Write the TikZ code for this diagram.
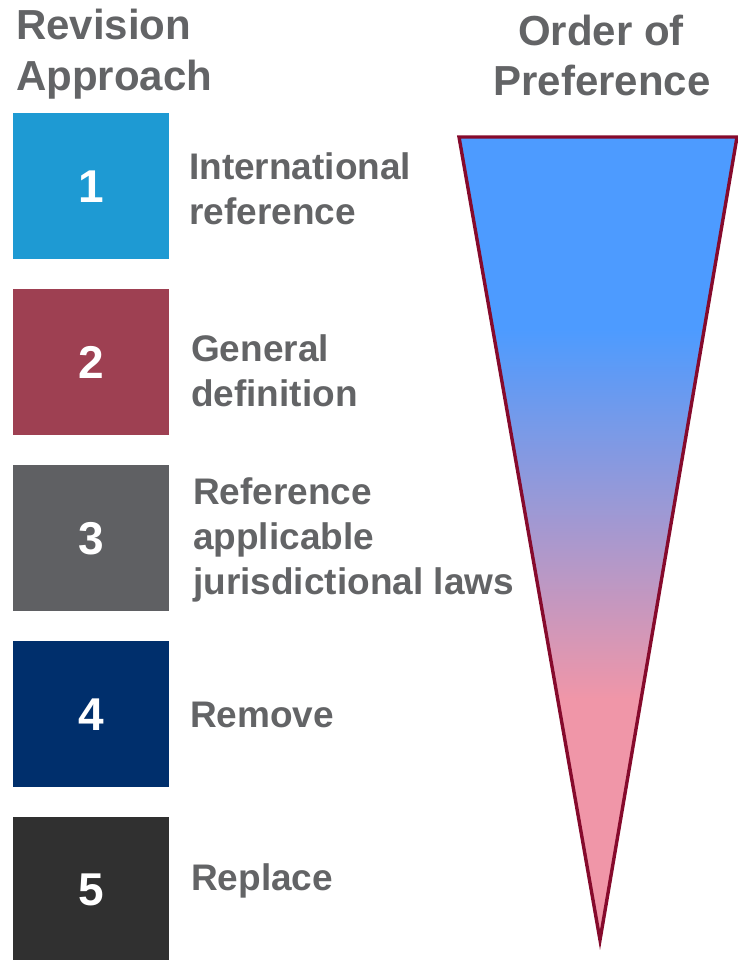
\documentclass[tikz,border=0pt]{standalone}
\usepackage{fontspec}
\setmainfont{Liberation Sans}
\definecolor{boxA}{HTML}{1E9AD3}
\definecolor{boxB}{HTML}{9E4052}
\definecolor{boxC}{HTML}{5F6063}
\definecolor{boxD}{HTML}{002F6C}
\definecolor{boxE}{HTML}{303030}
\definecolor{txtgray}{HTML}{636466}
\definecolor{tristroke}{HTML}{860A2C}
\definecolor{triblue}{HTML}{4D9BFF}
\definecolor{tripink}{HTML}{F096A8}
\pgfdeclareverticalshading{trishade}{100bp}{color(0bp)=(tripink); color(40bp)=(tripink); color(63bp)=(triblue); color(100bp)=(triblue)}
\begin{document}
\begin{tikzpicture}[x=1pt,y=-1pt,
  numbox/.style={minimum width=156pt, minimum height=146pt, inner sep=0pt, anchor=north west, text=white,
    font=\bfseries\fontsize{46}{50}\selectfont},
  lbl/.style={anchor=west, inner sep=0pt, align=left, text=txtgray,
    font=\bfseries\fontsize{37}{45}\selectfont},
  ttl/.style={anchor=base, inner sep=0pt, text=txtgray,
    font=\bfseries\fontsize{42}{48}\selectfont}]
\useasboundingbox (0,0) rectangle (737,960);
% titles
\node[ttl, anchor=base west] (ra) at (16,40) {Revision};
\node[ttl, anchor=base west] (rb) at (16,91) {Approach};
\node[ttl] (oa) at (601,46) {Order of};
\node[ttl] (ob) at (602,96) {Preference};
% triangle
\shadedraw[shading=trishade, draw=tristroke, line width=3.4pt, line join=miter]
  (459,137) -- (737,137) -- (600,940) -- cycle;
% boxes
\node[numbox, fill=boxA] (b1) at (13,113) {1};
\node[numbox, fill=boxB] (b2) at (13,289) {2};
\node[numbox, fill=boxC] (b3) at (13,465) {3};
\node[numbox, fill=boxD] (b4) at (13,641) {4};
\node[numbox, fill=boxE] (b5) at (13,817) {5};
% labels
\node[lbl] (l1) at (189,189) {International\\reference};
\node[lbl] (l2) at (191,371) {General\\definition};
\node[lbl] (l3) at (193,540) {Reference\\applicable\\jurisdictional laws};
\node[lbl] (l4) at (190,715) {Remove};
\node[lbl] (l5) at (191,881) {Replace};
\end{tikzpicture}
\end{document}
